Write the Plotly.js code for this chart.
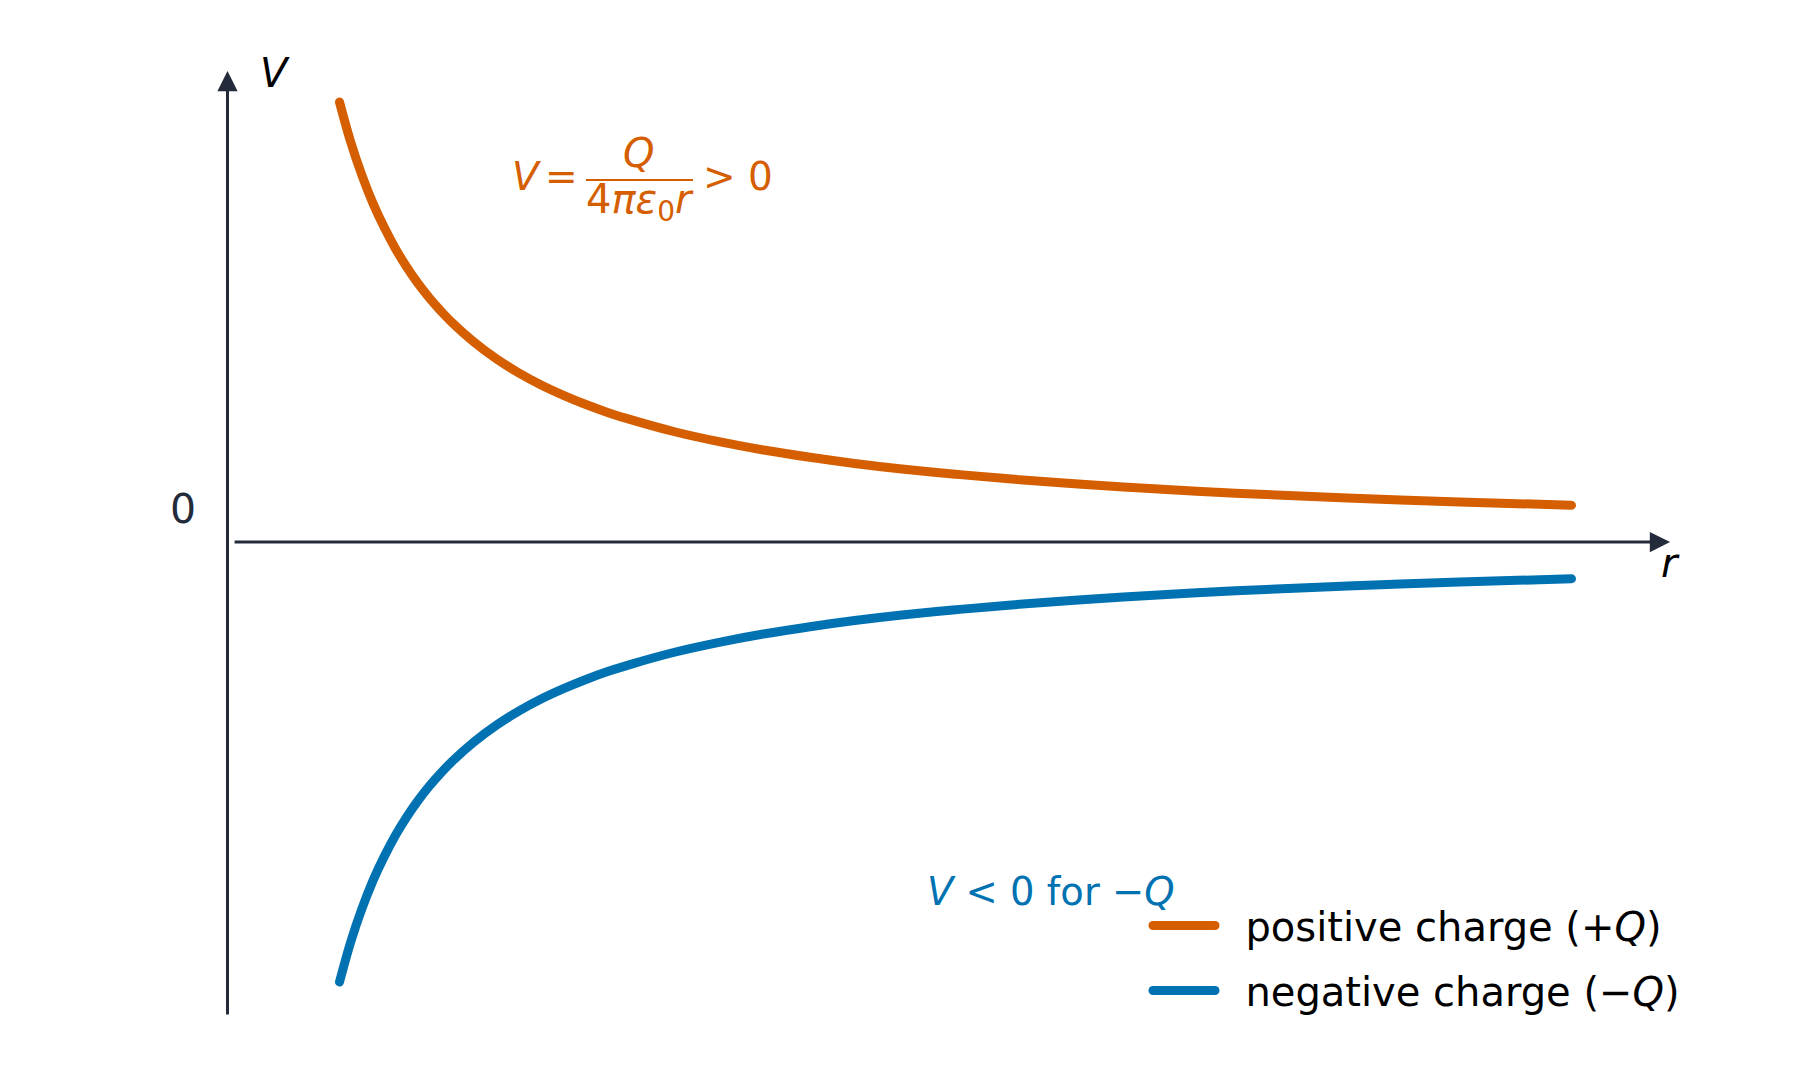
<!DOCTYPE html>
<html><head><meta charset="utf-8">
<script src="https://cdn.plot.ly/plotly-3.0.1.min.js"></script>
<style>
html,body{margin:0;padding:0;background:#fff;}
#chart{width:1800px;height:1066px;}
.scatterlayer .js-line{stroke-linecap:round;}
.legendlines path{stroke-linecap:round;}
</style></head><body><div id="chart"></div>
<script>
// distance from the charge (arbitrary units)
const r_values = [0.5,0.55,0.6,0.65,0.7,0.75,0.8,0.85,0.9,0.95,1.0,1.1,1.2,1.3,1.4,1.5,1.6,1.7,1.8,2.0,2.2,2.4,2.6,2.8,3.0,3.25,3.5,3.75,4.0,4.5,5.0,5.5,6.0];
// potential for +Q (arbitrary units)
const V_positive = [2.000,1.818,1.667,1.538,1.429,1.333,1.250,1.176,1.111,1.053,1.000,0.909,0.833,0.769,0.714,0.667,0.625,0.588,0.556,0.500,0.455,0.417,0.385,0.357,0.333,0.308,0.286,0.267,0.250,0.222,0.200,0.182,0.167];
// potential for -Q (arbitrary units)
const V_negative = [-2.000,-1.818,-1.667,-1.538,-1.429,-1.333,-1.250,-1.176,-1.111,-1.053,-1.000,-0.909,-0.833,-0.769,-0.714,-0.667,-0.625,-0.588,-0.556,-0.500,-0.455,-0.417,-0.385,-0.357,-0.333,-0.308,-0.286,-0.267,-0.250,-0.222,-0.200,-0.182,-0.167];
const series_names = ['positive charge (+<i>Q</i>)', 'negative charge (\u2212<i>Q</i>)'];
const zero_tick_label = '0';
const axis_labels = ['<i>r</i>', '<i>V</i>'];

const W = 1800, H = 1066;
const px = x => x / W;
const py = y => 1 - y / H;
const ORANGE = '#d55e00', BLUE = '#0072b2', AXIS = '#232b3a';
const FONT = 'DejaVu Sans';
const PAD = '\u00a0\u00a0';

const traces = [
  {x: r_values, y: V_positive, type: 'scatter', mode: 'lines', name: PAD + series_names[0],
   line: {color: ORANGE, width: 9, shape: 'spline'}, legendgroup: 'a'},
  {x: r_values, y: V_negative, type: 'scatter', mode: 'lines', name: PAD + series_names[1],
   line: {color: BLUE, width: 9, shape: 'spline'}, legendgroup: 'b'}
];

function txt(text, x, y, size, color, xanchor) {
  return {text: text, xref: 'paper', yref: 'paper', x: px(x), y: py(y), showarrow: false,
          xanchor: xanchor || 'center', yanchor: 'middle', font: {family: FONT, size: size, color: color}};
}

const annotations = [
  // axes as arrows
  {text: '', xref: 'x', yref: 'y', axref: 'x', ayref: 'y', x: 0, y: 2.141, ax: 0, ay: -2.1545,
   showarrow: true, arrowhead: 2, arrowsize: 1.35, arrowwidth: 3, arrowcolor: AXIS, standoff: 0, startstandoff: 0},
  {text: '', xref: 'x', yref: 'y', axref: 'x', ayref: 'y', x: 6.44, y: 0, ax: 0.025, ay: 0,
   showarrow: true, arrowhead: 2, arrowsize: 1.35, arrowwidth: 3, arrowcolor: AXIS, standoff: 0, startstandoff: 0},
  txt(axis_labels[1], 275, 73, 40, '#000'),
  txt(axis_labels[0], 1670, 563, 40, '#000'),
  txt(zero_tick_label, 182.5, 509, 41, AXIS),
  // formula
  txt('<i>V</i>', 526, 176, 39, ORANGE),
  txt('=', 561.5, 176, 39, ORANGE),
  txt('<i>Q</i>', 638, 153, 40, ORANGE),
  txt('4<i>\u03c0\u03b5</i><sub>0</sub><i>r</i>', 640, 202, 40, ORANGE),
  txt('> 0', 738, 176, 39, ORANGE),
  // negative note
  txt('<i>V</i> < 0 for \u2212<i>Q</i>', 925, 891, 38.5, BLUE, 'left')
];

const layout = {
  width: W, height: H,
  margin: {l: 0, r: 0, t: 0, b: 0, pad: 0},
  paper_bgcolor: '#fff', plot_bgcolor: '#fff',
  font: {family: FONT, size: 40, color: '#000'},
  xaxis: {range: [-1.0156, 7.0201], visible: false, fixedrange: true},
  yaxis: {range: [-2.3818, 2.4636], visible: false, fixedrange: true},
  showlegend: true,
  legend: {x: px(1148), y: py(893), xanchor: 'left', yanchor: 'top', bgcolor: 'rgba(0,0,0,0)',
           font: {family: FONT, size: 40, color: '#000'}, itemwidth: 62, tracegroupgap: 10,
           traceorder: 'grouped'},
  shapes: [
    {type: 'line', xref: 'paper', yref: 'paper', x0: px(586), x1: px(693), y0: py(180), y1: py(180),
     line: {color: ORANGE, width: 2}}
  ],
  annotations: annotations
};

Plotly.newPlot('chart', traces, layout, {displayModeBar: false, staticPlot: true});
</script></body></html>
